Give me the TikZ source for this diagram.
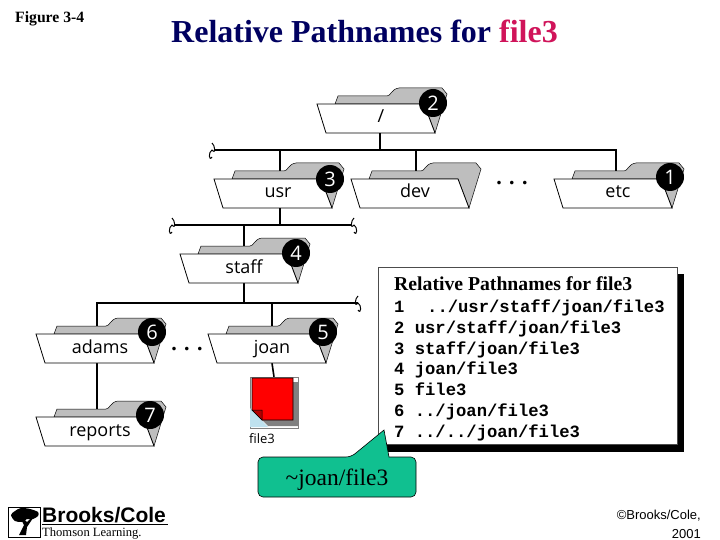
\documentclass[tikz,border=0pt]{standalone}
\usepackage{fontspec}
\setmainfont{Liberation Serif}
\newfontfamily\labelfont{Open Sans}
\newfontfamily\courfont{Liberation Mono}
\newfontfamily\arialfont{Liberation Sans}
\usetikzlibrary{backgrounds,positioning}
\definecolor{titleblue}{RGB}{0,0,96}
\definecolor{titlepink}{RGB}{208,20,90}
\definecolor{tabgray}{RGB}{190,190,190}
\definecolor{calloutgreen}{RGB}{16,192,144}
\definecolor{pageblue}{RGB}{190,225,238}
\tikzset{
	folder-name/.style={font=\labelfont\fontsize{18}{18}\selectfont,inner sep=0pt,text height=13pt,text depth=4pt,minimum width=118pt,minimum height=29pt},
	badge/.style={circle,fill=black,text=white,inner sep=0pt,minimum size=28pt,font=\labelfont\fontsize{20}{20}\selectfont},
	bus/.style={line width=2.4pt},
	stem/.style={line width=1.6pt},
	wiggle/.style={line width=1pt},
	path-line/.style={anchor=base west,inner sep=0pt,font=\courfont\bfseries\fontsize{17.2}{17.2}\selectfont},
	dots/.style={font=\bfseries\fontsize{22}{22}\selectfont,inner sep=0pt},
	pics/folder/.style={code={
		\draw[fill=tabgray,line width=.5pt] (18,0) -- (21,-8) -- (70,-8) .. controls (74,-8) and (74,-15) .. (82,-16) -- (125,-16) -- (130,-10) -- (118,29) -- (107,0) -- cycle;
		\draw[fill=white,line width=.8pt] (0,0) -- (9,29) -- (118,29) -- (107,0) -- cycle;
		\node[folder-name] (-front) at (64,14.5) {#1};
	}},
}
\begin{document}
\begin{tikzpicture}[x=1pt,y=-1pt]
\useasboundingbox (0,0) rectangle (720,540);

% headings

\node[anchor=base west,inner sep=0pt,font=\bfseries\fontsize{15.7}{15.7}\selectfont] (figno) at (15,23) {Figure 3-4};
\node[anchor=base west,inner sep=0pt,font=\bfseries\fontsize{32}{32}\selectfont,text=titleblue] (title) at (171,43) {Relative Pathnames for \textcolor{titlepink}{file3}};

% graph

\pic (root) at (317,104) {folder={/}};
\pic (usr) at (214,179) {folder={usr}};
\pic (dev) at (351,179) {folder={dev}};
\pic (etc) at (554,179) {folder={etc}};
\pic (staff) at (180,254) {folder={staff}};
\pic (adams) at (36,334) {folder={adams}};
\pic (joan) at (208,334) {folder={joan}};
\pic (reports) at (36,417) {folder={reports}};

\node[badge] (badge2) at (433,103) {2};
\node[badge] (badge3) at (330,179) {3};
\node[badge] (badge1) at (670,177) {1};
\node[badge] (badge4) at (296,253) {4};
\node[badge] (badge6) at (152,332) {6};
\node[badge] (badge5) at (323,332) {5};
\node[badge] (badge7) at (150,415) {7};

\node[dots] (dots1) at (512,183) {. . .};
\node[dots] (dots2) at (187,349) {. . .};

\coordinate (busA) at (215,150);
\coordinate (busB) at (175,225);
\coordinate (busBr) at (352,225);
\coordinate (busC) at (358,303);

% file icon

\draw[fill=white,line width=.5pt,draw=gray] (250,377) rectangle (298,428);
\fill[pageblue] (250,408) -- (268,427) -- (250,427) -- cycle;
\fill[gray] (293,382) -- (298,382) -- (298,426) -- (268,426) -- (262,420) -- (293,420) -- cycle;
\draw[fill=red,line width=.6pt] (252,378) -- (293,378) -- (293,420) -- (262,420) -- (252,410) -- cycle;
\draw[fill=red!70!black,line width=.5pt] (252,410) -- (262,410) -- (262,420) -- cycle;
\path (250,377) rectangle (298,428) node[midway,minimum width=48pt,minimum height=51pt,inner sep=0pt] (file3) {};
\node[font=\labelfont\fontsize{13}{13}\selectfont,inner sep=0pt] (file3-name) at (262,439) {file3};

% connections

\begin{scope}[on background layer]
\draw[bus] ([xshift=-1pt]root-front.south) -- ([xshift=-1pt]root-front.south |- busA);
\draw[bus] (busA) -| ([xshift=-2pt]etc-front.north);
\draw[bus] ([xshift=2pt]usr-front.north) -- ([xshift=2pt]usr-front.north |- busA);
\draw[bus] ([xshift=1pt]dev-front.north) -- ([xshift=1pt]dev-front.north |- busA);
\draw[stem] ([xshift=2pt]usr-front.south) -- ([xshift=2pt]usr-front.south |- busB);
\draw[bus] (busB) -- (busBr);
\draw[bus] (staff-front.north) -- (staff-front.north |- busB);
\draw[bus] (staff-front.south) -- (staff-front.south |- busC);
\draw[bus] ([xshift=-3pt]adams-front.north) |- (busC);
\draw[stem] (joan-front.north) -- (joan-front.north |- busC);
\draw[bus] ([xshift=-3pt]adams-front.south) -- ([xshift=-3pt]reports-front.north);
\draw[stem] (joan-front.south) -- (file3.north);
\end{scope}

\draw[wiggle] (busA) ++(-3,-7) .. controls +(3,2) and +(4,5) .. ++(0,7) .. controls +(-4,2) and +(-3,5) .. ++(0,7);
\draw[wiggle] (busB) ++(-3,-7) .. controls +(3,2) and +(4,5) .. ++(0,7) .. controls +(-4,2) and +(-3,5) .. ++(0,7);
\draw[wiggle] (busBr) ++(2,-7) .. controls +(-3,2) and +(-4,5) .. ++(0,7) .. controls +(4,2) and +(3,5) .. ++(0,7);
\draw[wiggle] (busC) ++(0,-7) .. controls +(-3,2) and +(-4,5) .. ++(0,7) .. controls +(4,2) and +(3,5) .. ++(0,7);

% path table

\fill[black] (385,274) rectangle (684,452);
\draw[fill=white,line width=.8pt,draw=black!70] (378,267) rectangle (677,444);
\node[anchor=base west,inner sep=0pt,font=\bfseries\fontsize{19.7}{19.7}\selectfont] (tablehead) at (394,290) {Relative Pathnames for file3};
\node[path-line] (line1) at (394,312) {1\hspace{22.7pt}../usr/staff/joan/file3};
\node[path-line] (line2) at (394,333) {2 usr/staff/joan/file3};
\node[path-line] (line3) at (394,354) {3 staff/joan/file3};
\node[path-line] (line4) at (394,374) {4 joan/file3};
\node[path-line] (line5) at (394,395) {5 file3};
\node[path-line] (line6) at (394,416) {6 ../joan/file3};
\node[path-line] (line7) at (394,437) {7 ../../joan/file3};

% callout

\draw[fill=calloutgreen,line width=.6pt,rounded corners=5pt] (258,457) -- (351,457) [sharp corners] -- (384,430) -- (389,457) [rounded corners=5pt] -- (416,457) -- (416,497) -- (258,497) -- cycle;
\node[inner sep=0pt,font=\fontsize{23.5}{23.5}\selectfont] (callout) at (337,480) {\textasciitilde joan/file3};

% logo and credit

\draw[line width=1pt] (8,507) rectangle (40,537);
\fill[black] plot[smooth cycle] coordinates {(11,515) (15,511) (21,508) (30,509) (38,512) (38,516) (33,519) (27,519) (22,522) (15,521)};
\fill[black] (19,535) -- (24,525) -- (21,519) -- (24,519) -- (27,522) -- (32,517) -- (33,518) -- (27,527) -- (26,535) -- cycle;
\node[anchor=base west,inner sep=0pt,font=\arialfont\bfseries\fontsize{21}{21}\selectfont] (brooks) at (42,522) {Brooks/Cole};
\draw[line width=1pt] (brooks.base west) ++(0,2) -- ++(126,0);
\node[anchor=base west,inner sep=0pt,font=\fontsize{12.6}{12.6}\selectfont] (thomson) at (42,536) {Thomson Learning.};
\node[anchor=base east,inner sep=0pt,font=\arialfont\fontsize{13}{13}\selectfont] (credit1) at (701,519) {\textcopyright Brooks/Cole,};
\node[anchor=base east,inner sep=0pt,font=\arialfont\fontsize{13}{13}\selectfont] (credit2) at (701,538) {2001};

\end{tikzpicture}
\end{document}
